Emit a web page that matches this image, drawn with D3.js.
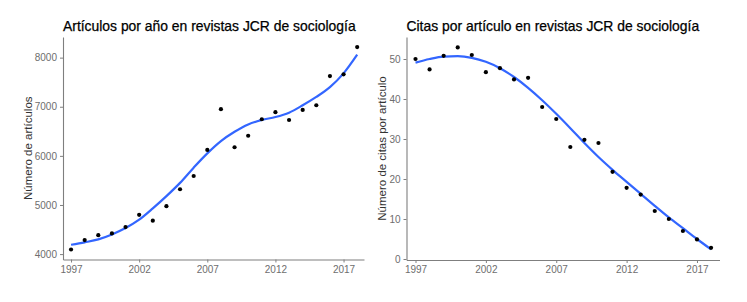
<!DOCTYPE html>
<html>
<head>
<meta charset="utf-8">
<title>Sociología JCR</title>
<style>
  body { margin: 0; background: #fff; }
  svg { display: block; font-family: "Liberation Sans", Arial, sans-serif; }
  .axis path, .axis line { stroke: #7f7f7f; }
  .axis text { fill: #6e6e6e; font-size: 10px; font-family: "Liberation Sans", Arial, sans-serif; }
</style>
</head>
<body>
<svg width="747" height="302"></svg>
<script src="https://cdn.jsdelivr.net/npm/d3@7"></script>
<script>
// años 1997-2018
const years = d3.range(1997, 2019)
const yearTicks = [1997, 2002, 2007, 2012, 2017]

// artículos por año
const articulos = [4094, 4285, 4386, 4420, 4550, 4800, 4680, 4975, 5320, 5590, 6120,
                   6950, 6175, 6410, 6745, 6890, 6730, 6935, 7030, 7625, 7660, 8215]
// curva suavizada (loess)
const articulosSmooth = [4190, 4240, 4300, 4400, 4530, 4700, 4930, 5180, 5450, 5760, 6050,
                         6300, 6490, 6640, 6730, 6790, 6880, 7030, 7200, 7400, 7680, 8060]
const articulosTicks = [4000, 5000, 6000, 7000, 8000]

// citas por artículo
const citas = [50.0, 47.4, 50.8, 52.9, 51.0, 46.7, 47.7, 44.9, 45.3, 38.0, 35.0,
               28.0, 29.8, 29.0, 21.8, 17.8, 16.1, 12.0, 10.0, 7.0, 4.9, 2.8]
const citasSmooth = [49.1, 50.0, 50.6, 50.7, 50.3, 49.3, 47.7, 45.5, 42.8, 39.7, 36.3,
                     32.7, 29.0, 25.5, 22.3, 19.3, 16.3, 13.3, 10.4, 7.7, 5.0, 2.4]
const citasTicks = [0, 10, 20, 30, 40, 50]

const svg = d3.select("svg")

function panel(cfg) {
  const x = d3.scaleLinear().domain(cfg.xDomain).range([cfg.left, cfg.right])
  const y = d3.scaleLinear().domain(cfg.yDomain).range([cfg.bottom, cfg.top])
  const g = svg.append("g")

  g.append("g").attr("class", "axis")
    .attr("transform", `translate(0,${cfg.bottom})`)
    .call(d3.axisBottom(x).tickValues(yearTicks).tickFormat(d3.format("d")).tickSize(3).tickPadding(3).tickSizeOuter(0))
  g.append("g").attr("class", "axis")
    .attr("transform", `translate(${cfg.left},0)`)
    .call(d3.axisLeft(y).tickValues(cfg.yTicks).tickFormat(d3.format("d")).tickSize(3).tickPadding(3).tickSizeOuter(0))
  g.selectAll(".axis path").attr("stroke-width", 1.1)

  const line = d3.line().x((d, i) => x(years[i])).y(d => y(d)).curve(d3.curveMonotoneX)
  g.append("path").datum(cfg.smooth)
    .attr("d", line).attr("fill", "none")
    .attr("stroke", "#3366FF").attr("stroke-width", 2.2)

  g.selectAll("circle").data(cfg.values).enter().append("circle")
    .attr("cx", (d, i) => x(years[i])).attr("cy", d => y(d))
    .attr("r", 2.1).attr("fill", "#000")

  g.append("text").attr("x", cfg.left).attr("y", 31)
    .attr("font-size", 13.9).attr("fill", "#000")
    .attr("stroke", "#000").attr("stroke-width", 0.25)
    .text(cfg.title)

  g.append("text")
    .attr("transform", `translate(${cfg.yTitleX},${(cfg.top + cfg.bottom) / 2}) rotate(-90)`)
    .attr("text-anchor", "middle").attr("font-size", 11.5).attr("fill", "#333")
    .text(cfg.yTitle)
}

panel({
  title: "Artículos por año en revistas JCR de sociología",
  yTitle: "Número de artículos",
  values: articulos, smooth: articulosSmooth, yTicks: articulosTicks,
  xDomain: [1996.41, 2018.5], yDomain: [3890, 8420],
  left: 63, right: 364, top: 37, bottom: 259.5, yTitleX: 32
})

panel({
  title: "Citas por artículo en revistas JCR de sociología",
  yTitle: "Número de citas por artículo",
  values: citas, smooth: citasSmooth, yTicks: citasTicks,
  xDomain: [1996.36, 2018.6], yDomain: [-0.25, 55.5],
  left: 406.5, right: 719.5, top: 37, bottom: 260, yTitleX: 386
})
</script>
</body>
</html>
